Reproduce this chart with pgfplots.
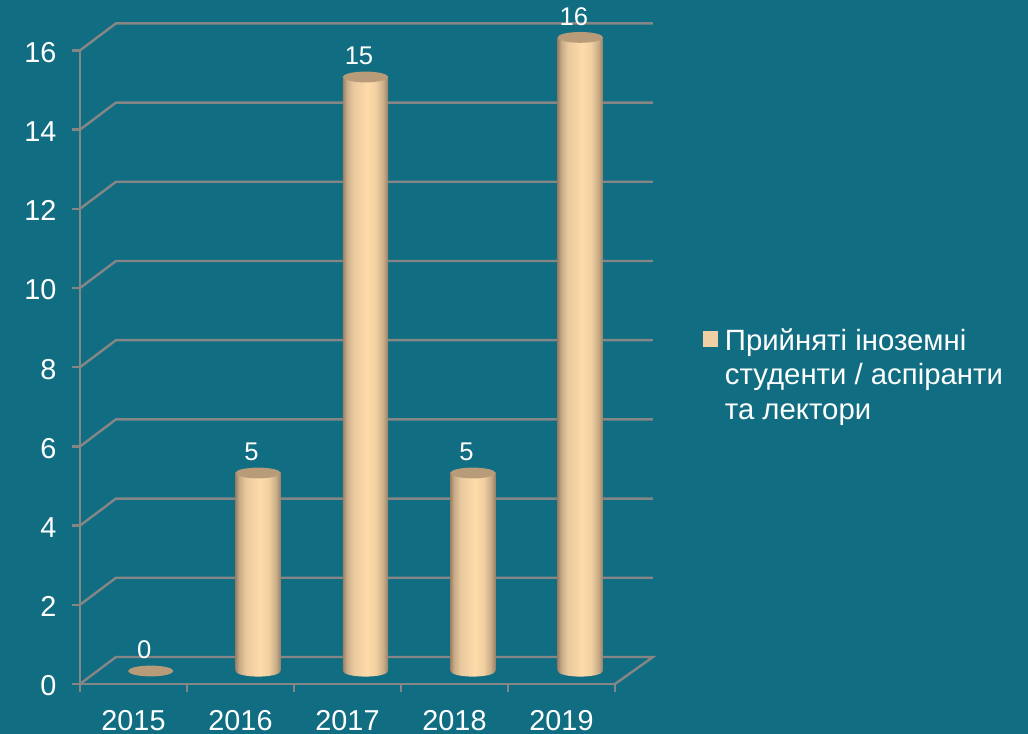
\documentclass[border=0pt]{standalone}
\usepackage{fontspec}
\setmainfont{Liberation Sans}
\usepackage{pgfplots}
\usepackage{pgfplotstable}
\pgfplotsset{compat=1.18}
\usetikzlibrary{shadings}

% one reference pixel
\newlength{\px}
\setlength{\px}{0.75pt}

\definecolor{bg}{RGB}{17,110,130}
\definecolor{gridgrey}{RGB}{134,134,134}
\definecolor{captop}{RGB}{184,155,120}
\definecolor{legsq}{RGB}{240,207,165}

\pgfdeclarehorizontalshading{cylbody}{100bp}{
    rgb(0bp)=(0.612,0.510,0.400);
    rgb(25bp)=(0.612,0.510,0.400);
    rgb(29bp)=(0.784,0.667,0.529);
    rgb(36bp)=(0.910,0.784,0.620);
    rgb(52bp)=(1.000,0.859,0.667);
    rgb(62bp)=(0.941,0.812,0.627);
    rgb(70bp)=(0.784,0.675,0.533);
    rgb(75bp)=(0.588,0.502,0.400);
    rgb(100bp)=(0.588,0.502,0.400)}

\pgfdeclareplotmark{cyltop}{\path[draw=none,fill=captop,rotate=4] (0,0) ellipse [x radius=22.6\px, y radius=5.4\px];}
\pgfdeclareplotmark{cylbase}{\path[draw=none,shade,shading=cylbody,rotate=4] (0,0) ellipse [x radius=22.6\px, y radius=5.6\px];}

\pgfplotsset{cylbar/.style={ybar,bar shift=0pt,bar width=45.2\px,draw=none,shade,shading=cylbody,forget plot}}

\pgfplotstableread{
x   y
0.5 0
1.5 5
2.5 15
3.5 5
4.5 16
}\students

\begin{document}
\begin{tikzpicture}
    \path[use as bounding box,fill=bg] (0,0) rectangle (1028\px,734\px);

    % frame: front plane with ticks, back wall and floor as lines
    \begin{axis}[
            at={(80\px,50\px)},
            anchor=south west,
            scale only axis,
            width=535\px,
            height=633.6\px,
            xmin=0, xmax=5,
            ymin=0, ymax=16,
            clip=false,
            axis x line*=bottom,
            axis y line*=left,
            axis line style={gridgrey,line width=2.4\px,-},
            every tick/.style={gridgrey,line width=2.4\px},
            tickwidth=8\px,
            tick align=outside,
            xtick={0,1,2,3,4,5},
            x tick label as interval=true,
            xticklabels={2015,2016,2017,2018,2019},
            ytick={0,2,4,6,8,10,12,14,16},
            /pgf/number format/assume math mode=true,
            tick label style={text=white,font=\fontsize{21.6}{26}\selectfont},
            x tick label style={inner ysep=0pt,yshift=-18\px},
            y tick label style={xshift=-11\px,yshift=-2\px},
            unbounded coords=jump,
        ]
        \addplot[gridgrey,line width=2.4\px,forget plot] table[row sep=\\] {
            x y\\
            0 0\\ 0.336 0.682\\ 5.355 0.682\\ 5 0\\ nan nan\\
            0 2\\ 0.336 2.682\\ 5.355 2.682\\ nan nan\\
            0 4\\ 0.336 4.682\\ 5.355 4.682\\ nan nan\\
            0 6\\ 0.336 6.682\\ 5.355 6.682\\ nan nan\\
            0 8\\ 0.336 8.682\\ 5.355 8.682\\ nan nan\\
            0 10\\ 0.336 10.682\\ 5.355 10.682\\ nan nan\\
            0 12\\ 0.336 12.682\\ 5.355 12.682\\ nan nan\\
            0 14\\ 0.336 14.682\\ 5.355 14.682\\ nan nan\\
            0 16\\ 0.336 16.682\\ 5.355 16.682\\
        };
    \end{axis}

    % cylinders sit half way into the depth of the floor
    \begin{axis}[
            at={(97\px,63\px)},
            anchor=south west,
            scale only axis,
            width=537\px,
            height=633.6\px,
            xmin=0, xmax=5,
            ymin=0, ymax=16,
            clip=false,
            hide axis,
            /pgf/number format/assume math mode=true,
            legend style={
                    at={(1.128,0.549)},
                    anchor=north west,
                    draw=none,
                    fill=none,
                    text=white,
                    font=\fontsize{22}{34.5\px}\selectfont,
                    inner sep=0pt,
                    cells={anchor=west},
                },
        ]
        \addplot[only marks,mark=cylbase,forget plot] coordinates {(1.5,0) (2.5,0) (3.5,0) (4.5,0)};
        % one plot per cylinder, so that each gets its own shading (2015 has no height)
        \addplot[cylbar] coordinates {(1.5,5)};
        \addplot[cylbar] coordinates {(2.5,15)};
        \addplot[cylbar] coordinates {(3.5,5)};
        \addplot[cylbar] coordinates {(4.5,16)};
        \addplot[only marks,mark=cyltop,
            legend image code/.code={\path (19\px,0);\path[draw=none,fill=legsq] (0,-8\px) rectangle (15\px,8\px);},
            nodes near coords,
            every node near coord/.append style={text=white,inner sep=0pt,
                font=\fontsize{19.2}{22}\selectfont,xshift=-6.5\px,yshift=11.5\px}]
            table[x=x,y=y] {\students};
        \addlegendentry{\begin{tabular}[t]{@{}l@{}}Прийняті іноземні\\студенти / аспіранти\\та лектори\end{tabular}}
    \end{axis}
\end{tikzpicture}
\end{document}
